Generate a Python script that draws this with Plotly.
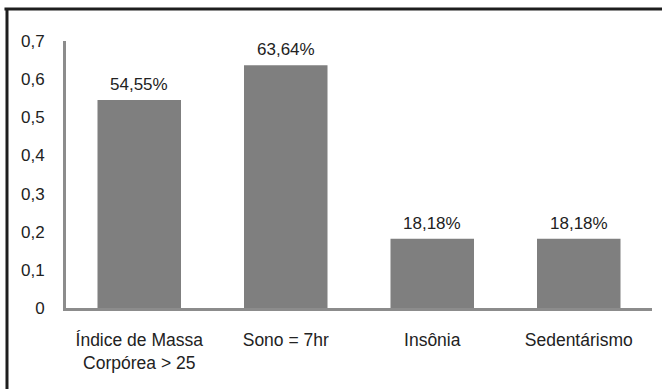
import plotly.graph_objects as go

categories = ["Índice de Massa<br>Corpórea > 25", "Sono = 7hr", "Insônia", "Sedentárismo"]
values = [0.5455, 0.6364, 0.1818, 0.1818]
y_ticks = [0, 0.1, 0.2, 0.3, 0.4, 0.5, 0.6, 0.7]

FONT = "Liberation Sans, Arial, sans-serif"
TEXT = "#222222"
BAR = "#7f7f7f"
AXIS = "#8c8c8c"

def pct(v):
    return f"{v * 100:.2f}".replace(".", ",") + "%"

fig = go.Figure()
fig.add_trace(go.Bar(
    x=categories,
    y=values,
    marker=dict(color=BAR, line=dict(width=0)),
    width=0.57,
    hoverinfo="skip",
))

# value labels above each bar
for c, v in zip(categories, values):
    fig.add_annotation(
        x=c, y=v, text=pct(v), showarrow=False,
        yanchor="bottom", yshift=4,
        font=dict(family=FONT, size=17, color=TEXT),
    )

# frame lines along the left and top edges
fig.add_shape(type="line", xref="paper", yref="paper",
              x0=-0.1007, x1=-0.1007, y0=1.12, y1=-0.35,
              line=dict(color="#1e1e1e", width=3))
fig.add_shape(type="line", xref="paper", yref="paper",
              x0=-0.105, x1=1.05, y0=1.12, y1=1.12,
              line=dict(color="#1e1e1e", width=3))

fig.update_layout(
    width=662, height=389,
    margin=dict(l=66, r=10, t=41, b=81),
    paper_bgcolor="white", plot_bgcolor="white",
    separators=",.",
    showlegend=False,
    bargap=0.43,
    font=dict(family=FONT, size=17, color=TEXT),
    xaxis=dict(
        showline=True, linecolor=AXIS, linewidth=3,
        ticks="", showgrid=False, ticklabelstandoff=14,
        tickfont=dict(family=FONT, size=17.5, color=TEXT),
    ),
    yaxis=dict(
        range=[0, 0.7], tickvals=y_ticks,
        showline=True, linecolor=AXIS, linewidth=3,
        ticks="", showgrid=False, zeroline=False,
        ticklabelstandoff=15,
        tickfont=dict(family=FONT, size=17, color=TEXT),
    ),
)

fig.write_html("out.html")
